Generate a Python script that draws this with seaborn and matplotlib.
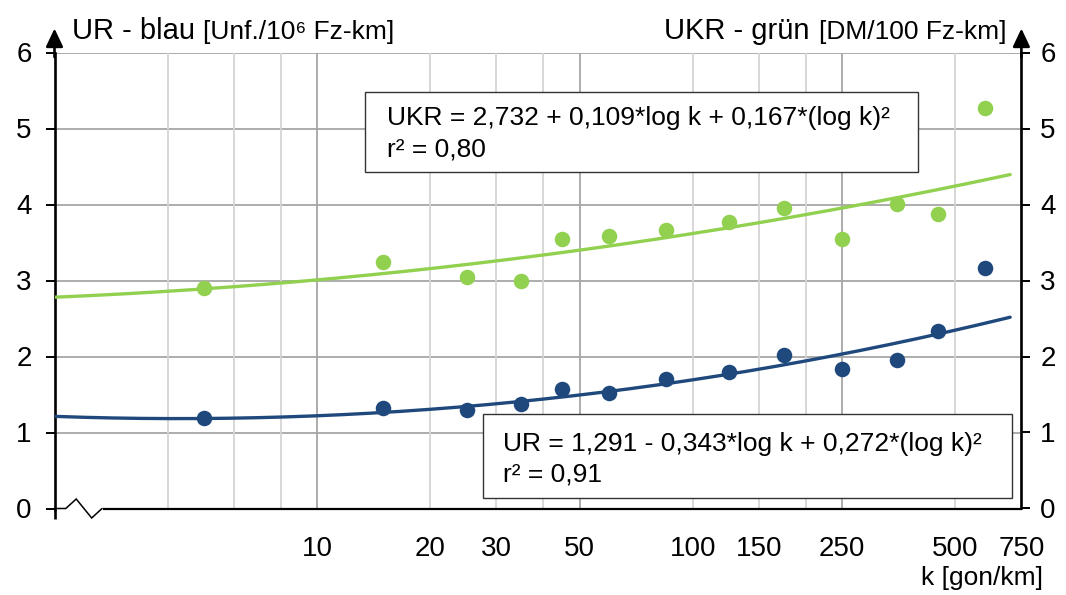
import numpy as np
import pandas as pd
import matplotlib
matplotlib.use("Agg")
import matplotlib.pyplot as plt
from matplotlib.ticker import FixedLocator, FuncFormatter
from matplotlib.patches import Rectangle
import seaborn as sns

# curvature classes k [gon/km]
k_values = [5, 15, 25, 35, 45, 60, 85, 125, 175, 250, 350, 450, 600]
# accident rate UR [Unf./10^6 Fz-km]
ur_values = [1.19, 1.32, 1.30, 1.37, 1.57, 1.52, 1.70, 1.79, 2.02, 1.83, 1.95, 2.34, 3.16]
# accident cost rate UKR [DM/100 Fz-km]
ukr_values = [2.90, 3.24, 3.05, 2.99, 3.55, 3.58, 3.66, 3.77, 3.96, 3.55, 4.01, 3.88, 5.27]

# regression: y = a + b*log k + c*(log k)^2
ur_coef = [1.291, -0.343, 0.272]
ukr_coef = [2.732, 0.109, 0.167]
ur_label = "UR = 1,291 - 0,343*log k + 0,272*(log k)²"
ukr_label = "UKR = 2,732 + 0,109*log k + 0,167*(log k)²"
ur_r2 = "r² = 0,91"
ukr_r2 = "r² = 0,80"

x_major = [10, 50, 250]
x_minor_labeled = [20, 30, 100, 150, 500, 750]
x_minor_grid = [4, 6, 8, 20, 30, 40, 100, 150, 200, 500]
y_ticks = [0, 1, 2, 3, 4, 5, 6]
k_lim = (2, 750)
k_curve = (2, 700)

BLUE = "#1F497D"
GREEN = "#92D050"
GRID_DARK = "#A6A6A6"
GRID_LIGHT = "#D4D4D4"

sns.set_style("white")
plt.rcParams["font.family"] = ["Liberation Sans", "DejaVu Sans"]
plt.rcParams.update({"text.color": "black", "xtick.color": "black",
                     "ytick.color": "black", "axes.labelcolor": "black"})

W, H = 1066, 595
fig = plt.figure(figsize=(W / 100, H / 100), dpi=100)


def fx(px):
    return px / W


def fy(py):
    return 1 - py / H


ax_l, ax_r, ax_t, ax_b = 54.5, 1021.4, 52.5, 508.5
ax = fig.add_axes([fx(ax_l), fy(ax_b), (ax_r - ax_l) / W, (ax_b - ax_t) / H])

# data frames
pts = pd.DataFrame({"k": k_values, "UR": ur_values, "UKR": ukr_values})
kk = np.logspace(np.log10(k_curve[0]), np.log10(k_curve[1]), 300)
L = np.log10(kk)
curves = pd.DataFrame({
    "k": kk,
    "UR": ur_coef[0] + ur_coef[1] * L + ur_coef[2] * L ** 2,
    "UKR": ukr_coef[0] + ukr_coef[1] * L + ukr_coef[2] * L ** 2,
})

ax.set_xscale("log")
ax.set_xlim(*k_lim)
ax.set_ylim(0, 6)

sns.lineplot(data=curves, x="k", y="UKR", color=GREEN, lw=2.4, ax=ax, zorder=3)
sns.lineplot(data=curves, x="k", y="UR", color=BLUE, lw=2.4, ax=ax, zorder=3)
sns.scatterplot(data=pts, x="k", y="UKR", color=GREEN, s=125, linewidth=0, ax=ax, zorder=4)
sns.scatterplot(data=pts, x="k", y="UR", color=BLUE, s=125, linewidth=0, ax=ax, zorder=4)
ax.set_xlabel("")
ax.set_ylabel("")

# x axis ticks and grid
ax.xaxis.set_major_locator(FixedLocator(x_major))
ax.xaxis.set_major_formatter(FuncFormatter(lambda v, p: f"{v:g}"))
minor_locs = sorted(set(x_minor_grid + x_minor_labeled))
ax.xaxis.set_minor_locator(FixedLocator(minor_locs))
ax.xaxis.set_minor_formatter(
    FuncFormatter(lambda v, p: f"{v:g}" if int(round(v)) in x_minor_labeled else ""))
ax.tick_params(axis="x", which="major", direction="out", length=6.5, width=1.4,
               color="black", labelcolor="black", labelsize=20, pad=13)
ax.tick_params(axis="x", which="minor", length=0, labelcolor="black",
               labelsize=20, pad=19.5)
ax.grid(which="major", axis="x", color=GRID_DARK, lw=1.3)
ax.grid(which="minor", axis="x", color=GRID_LIGHT, lw=1.3)
for y in y_ticks[1:]:
    ax.axhline(y, color=GRID_DARK, lw=1.3, zorder=0.5)
ax.set_axisbelow(True)

# left y axis
ax.set_yticks(y_ticks)
ax.yaxis.set_major_formatter(FuncFormatter(lambda v, p: f"{v:g}"))
ax.tick_params(axis="y", which="major", direction="out", length=6.5, width=1.4,
               color="black", labelcolor="black", labelsize=20, pad=10, left=True)

for s in ["top", "right"]:
    ax.spines[s].set_visible(False)
for s in ["left", "bottom"]:
    ax.spines[s].set_color("black")
ax.spines["left"].set_linewidth(1.9)
ax.spines["bottom"].set_linewidth(1.6)
k_break = 10 ** (1 + (102 - 316.5) / 377.7)
ax.spines["bottom"].set_bounds(k_break, k_lim[1])

# right y axis
ax2 = ax.twinx()
ax2.set_ylim(0, 6)
ax2.set_yticks(y_ticks)
ax2.yaxis.set_major_formatter(FuncFormatter(lambda v, p: f"{v:g}"))
ax2.tick_params(axis="y", direction="out", length=6.5, width=1.4, color="black",
                labelcolor="black", labelsize=20, pad=7)
for s in ["top", "left", "bottom"]:
    ax2.spines[s].set_visible(False)
ax2.spines["right"].set_linewidth(1.9)
ax2.spines["right"].set_color("black")

# axis arrows
hx = 1 + 24 / (ax_b - ax_t)
for xa in (0, 1):
    ax.annotate("", xy=(xa, hx), xytext=(xa, 0.99), xycoords="axes fraction",
                arrowprops=dict(arrowstyle="-|>,head_length=0.55,head_width=0.26",
                                mutation_scale=20, color="black", lw=1.9,
                                shrinkA=0, shrinkB=0),
                annotation_clip=False)

# axis break symbol at the origin
aw, ah = ax_r - ax_l, ax_b - ax_t
zx = [(p - ax_l) / aw for p in (ax_l, 65.8, 76.2, 91.7, 102)]
zy = [d / ah for d in (0, 0, 9.5, -9.5, 0)]
ax.plot(zx, zy, transform=ax.transAxes, color="black", lw=1.1, clip_on=False,
        solid_joinstyle="miter")
ax.plot([0, 0], [0, -10 / ah], transform=ax.transAxes, color="black", lw=1.9,
        clip_on=False, solid_capstyle="butt")

# axis titles
fig.text(fx(72.5), fy(39), "UR - blau", fontsize=21, ha="left", va="baseline")
fig.text(fx(203), fy(39), "[Unf./10⁶ Fz-km]", fontsize=19, ha="left", va="baseline")
fig.text(fx(819), fy(39), "[DM/100 Fz-km]", fontsize=19, ha="left", va="baseline")
fig.text(fx(810), fy(39), "UKR - grün", fontsize=21, ha="right", va="baseline")
fig.text(fx(1043), fy(578), "k [gon/km]", fontsize=19, ha="right", va="center")

# regression boxes
for (x0, y0, x1, y1), l1, l2, tx, b1 in [
    ((365, 92, 918, 172), ukr_label, ukr_r2, 387, 125.5),
    ((483, 414, 1012, 498), ur_label, ur_r2, 503, 450.5),
]:
    fig.add_artist(Rectangle((fx(x0), fy(y1)), (x1 - x0) / W, (y1 - y0) / H,
                             transform=fig.transFigure, facecolor="white",
                             edgecolor="#333333", lw=1.0, zorder=5))
    fig.text(fx(tx), fy(b1), l1, fontsize=19, ha="left", va="baseline", zorder=6)
    fig.text(fx(tx), fy(b1 + 31), l2, fontsize=19, ha="left", va="baseline", zorder=6)

fig.savefig("out.png", dpi=100, facecolor="white")
